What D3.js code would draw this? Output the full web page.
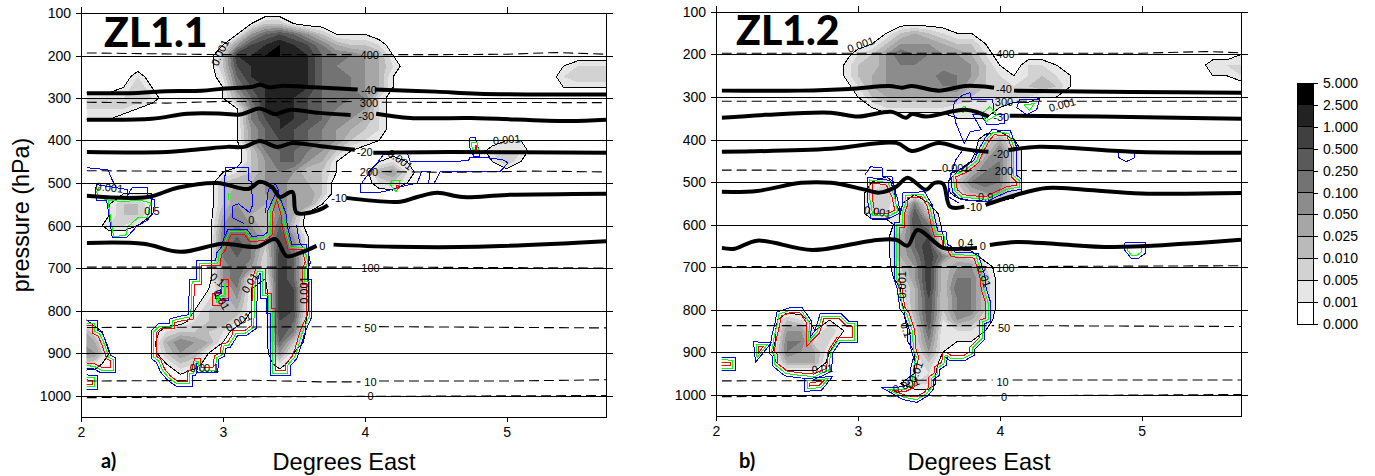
<!DOCTYPE html>
<html>
<head>
<meta charset="utf-8">
<script src="https://cdn.jsdelivr.net/npm/d3@7"></script>
<style>
  html, body { margin: 0; padding: 0; background: #fff; }
  svg { display: block; }
  text { font-family: "Liberation Sans", Arial, sans-serif; fill: #000; }
  .axis text { font-size: 14px; }
  .axis path, .axis line { stroke: #000; stroke-width: 1px; shape-rendering: crispEdges; }
  .tag { font-size: 11px; }
</style>
</head>
<body>
<svg id="chart" width="1375" height="476"></svg>
<script>
//------------------- axes ------------------
var pressureTicks = [100, 200, 300, 400, 500, 600, 700, 800, 900, 1000];
var lonTicks = [2, 3, 4, 5];
var gridLonStart = 2, gridLonStep = 0.1, gridCols = 38;
var gridPresStart = 100, gridPresStep = 25;

//------------------- colour bar ------------------
var legendLabels = ["0.000", "0.001", "0.005", "0.010", "0.025", "0.050", "0.100", "0.250", "0.500", "1.000", "2.500", "5.000"];
var legendGreys = ["#ffffff", "#e6e6e6", "#d2d2d2", "#bababa", "#a6a6a6", "#8c8c8c", "#737373", "#5a5a5a", "#404040", "#222222", "#000000"];

//------------------- condensate, read as colour bar class, one row per 25 hPa, one column per 0.1 deg ------------------
var cloudA = [
  [],
  [0,0,0,0,0,0,0,0,0,0,0,0,1,3,3,1],
  [0,0,0,0,0,0,0,0,0,0,0,1,5,7,8,7,5,3,1,1,1],
  [0,0,0,0,0,0,0,0,0,0,1,5,8,9,10,9,8,6,4,3,3,2],
  [0,0,0,0,0,0,0,0,0,0,3,9,9,10,10,9,9,7,6,6,5,4,1],
  [0,0,0,0,0,0,0,0,0,0,3,8,9,9,9,9,9,7,6,5,5,4,2,0,0,0,0,0,0,0,0,0,0,0,1,2,2,2],
  [0,0,0,0,2,0,0,0,0,0,2,7,9,9,9,9,9,7,6,6,5,4,1,0,0,0,0,0,0,0,0,0,0,0,2,3,3,3],
  [0,0,0,1,3,1,0,0,0,0,1,6,8,9,9,9,9,7,6,6,5,4,1,0,0,0,0,0,0,0,0,0,0,0,1,1,1,1],
  [2,2,2,2,3,2,0,0,0,0,1,4,7,9,9,9,8,7,6,6,6,2],
  [2,2,2,2,1,0,0,0,0,0,0,1,6,9,9,9,8,7,6,5,5,2],
  [1,1,1,0,0,0,0,0,0,0,0,1,6,8,9,9,8,7,5,5,4,2],
  [0,0,0,0,0,0,0,0,0,0,0,1,5,7,9,8,7,6,5,4,3,2],
  [0,0,0,0,0,0,0,0,0,0,0,1,5,7,8,8,7,6,5,3,2,1,0,0,0,0,0,0,0,0,1,1],
  [0,0,0,0,0,0,0,0,0,0,0,0,3,6,7,7,6,5,3,1,0,0,0,0,0,0,0,0,0,2,2,2],
  [0,0,0,0,0,0,0,0,0,0,0,0,3,5,7,7,5,4,1,0,0,1,2,1,0,0,0,0,0,1,3,1],
  [0,0,0,0,0,0,0,0,0,0,1,2,3,5,6,5,3,3,1,0,0,4,5,2],
  [0,0,0,0,0,0,0,0,0,0,3,4,4,5,6,4,4,3,0,0,0,2,3,1],
  [0,0,0,1,1,1,0,0,0,0,3,5,4,5,6,4,5,3],
  [0,0,1,3,3,1,0,0,0,0,3,5,4,4,6,4,5,1],
  [0,0,1,3,3,1,0,0,0,0,4,6,4,3,6,4],
  [0,0,2,2,1,0,0,0,0,0,5,6,5,3,7,3],
  [0,0,0,0,0,0,0,0,0,0,6,7,6,4,8,5,1],
  [0,0,0,0,0,0,0,0,0,0,6,8,6,3,8,6,1],
  [0,0,0,0,0,0,0,0,0,0,6,7,6,2,9,7,1],
  [0,0,0,0,0,0,0,0,0,0,5,7,5,2,9,7,1],
  [0,0,0,0,0,0,0,0,0,0,5,7,1,1,9,7,1],
  [0,0,0,0,0,0,0,0,0,1,3,6,1,0,9,8,1],
  [0,0,0,0,0,0,0,0,0,2,3,5,1,0,9,8,1],
  [0,0,0,0,0,0,0,0,1,3,3,4,1,0,9,8,1],
  [2,0,0,0,0,0,0,0,2,3,4,2,0,0,8,7],
  [5,2,0,0,0,0,2,3,3,3,2,0,0,0,8,6],
  [5,4,0,0,0,0,4,6,5,4,1,0,0,0,7,3],
  [6,5,1,0,0,0,3,5,4,1,0,0,0,0,5,1],
  [3,2,0,0,0,0,1,3,2,0,0,0,0,0,2],
  [0,0,0,0,0,0,0,1],
  [],
  []
];

var cloudB = [
  [],
  [],
  [0,0,0,0,0,0,0,0,0,0,0,0,1,3,4,3,2,1,1],
  [0,0,0,0,0,0,0,0,0,0,0,1,3,5,5,5,4,3,3,1],
  [0,0,0,0,0,0,0,0,0,0,2,3,5,7,6,6,5,5,4,2,0,0,0,0,0,0,0,0,0,0,0,0,0,0,0,0,0,1],
  [0,0,0,0,0,0,0,0,0,1,3,3,5,6,6,5,5,5,5,3,1,0,2,2,1,0,0,0,0,0,0,0,0,0,0,2,2,2],
  [0,0,0,0,0,0,0,0,0,1,3,4,5,5,5,5,7,6,5,3,2,1,2,3,2,1,0,0,0,0,0,0,0,0,0,1,1,2],
  [0,0,0,0,0,0,0,0,0,0,2,4,5,5,5,5,6,6,4,3,2,2,3,4,3,1],
  [0,0,0,0,0,0,0,0,0,0,1,3,4,4,4,4,4,4,3,2,2,2,2,1,1],
  [0,0,0,0,0,0,0,0,0,0,0,1,2,2,2,2,2,1,1,1,1],
  [0,0,0,0,0,0,0,0,0,0,0,0,0,0,0,0,0,1,1,1],
  [],
  [0,0,0,0,0,0,0,0,0,0,0,0,0,0,0,0,0,0,0,2,4,1],
  [0,0,0,0,0,0,0,0,0,0,0,0,0,0,0,0,0,0,0,3,6,2],
  [0,0,0,0,0,0,0,0,0,0,0,0,0,0,0,0,0,0,1,5,6,2],
  [0,0,0,0,0,0,0,0,0,0,0,0,0,0,0,0,0,1,4,6,6,2],
  [0,0,0,0,0,0,0,0,0,0,0,1,2,0,0,0,0,3,6,7,6,2],
  [0,0,0,0,0,0,0,0,0,0,0,2,3,0,0,0,0,2,4,5,5,2],
  [0,0,0,0,0,0,0,0,0,0,0,2,3,0,6,1],
  [0,0,0,0,0,0,0,0,0,0,0,2,2,1,8,3],
  [0,0,0,0,0,0,0,0,0,0,0,0,0,2,8,6],
  [0,0,0,0,0,0,0,0,0,0,0,0,0,4,7,8,1],
  [0,0,0,0,0,0,0,0,0,0,0,0,0,4,7,9,1],
  [0,0,0,0,0,0,0,0,0,0,0,0,0,4,6,9,6,3,2],
  [0,0,0,0,0,0,0,0,0,0,0,0,0,3,5,9,3,5,5,2],
  [0,0,0,0,0,0,0,0,0,0,0,0,0,2,5,9,3,6,6,3],
  [0,0,0,0,0,0,0,0,0,0,0,0,0,1,4,9,3,7,6,3],
  [0,0,0,0,0,0,0,0,0,0,0,0,0,1,4,8,3,6,6,3],
  [0,0,0,0,0,0,0,0,0,0,0,0,0,0,4,8,3,6,6,3],
  [0,0,0,0,0,3,2,0,1,0,0,0,0,0,3,8,2,5,4,2],
  [0,0,0,0,0,5,5,1,3,1,0,0,0,0,2,7,1,2,2,1],
  [0,0,0,0,0,6,6,2,2,0,0,0,0,0,2,6,1,1,1],
  [0,0,0,0,1,6,5,4,1,0,0,0,0,0,1,5,1],
  [0,0,0,0,0,4,4,4,0,0,0,0,0,0,1,3],
  [0,0,0,0,0,0,0,0,0,0,0,0,0,0,1,2],
  [0,0,0,0,0,0,0,0,0,0,0,0,0,1,2,2],
  []
];

//------------------- temperature lines [lon, hPa], null = gap for the label ------------------
var tempA = [
  [[2.04,289],[2.4,288],[2.6,284],[2.85,283],[3.0,278],[3.2,274],[3.26,269],[3.33,275],[3.42,271],[3.6,274],[3.85,278],[3.95,280],null,[4.07,280],[4.5,285],[4.8,290],[5.7,292]],
  [[2.04,351],[2.5,349],[2.75,337],[3.0,337],[3.12,339],[3.26,325],[3.37,338],[3.47,328],[3.68,335],[3.9,340],null,[4.08,337],[4.32,347],[4.75,347],[5.43,354],[5.7,351]],
  [[2.04,427],[2.6,427],[2.85,420],[3.03,415],[3.15,415],[3.26,401],[3.38,415],[3.49,406],[3.68,413],[3.93,422],null,[4.06,429],[4.6,427],[5.7,429]],
  [[2.04,530],[2.47,533],[2.68,511],[2.96,500],[3.18,514],[3.26,497],[3.35,511],[3.40,533],[3.49,521],[3.52,570],[3.68,563],[3.74,552],null,[3.87,535],[4.25,544],[4.37,533],[4.51,523],[4.69,533],[5.0,528],[5.7,525]],
  [[2.04,641],[2.44,643],[2.7,662],[3.0,643],[3.24,650],[3.37,632],[3.45,672],[3.54,665],[3.66,648],null,[3.78,645],[4.2,650],[4.8,650],[5.7,637]]
];
var tempB = [
  [[2.04,285],[2.59,285],[2.94,281],[3.22,274],[3.31,278],[3.38,274],[3.57,285],[3.76,274],[3.96,278],null,[4.1,285],[4.93,288],[5.7,290]],
  [[2.04,349],[2.35,342],[2.81,337],[3.0,346],[3.24,335],[3.34,349],[3.38,340],[3.48,346],[3.76,330],[3.92,346],null,[4.07,344],[4.7,346],[5.7,351]],
  [[2.04,429],[2.81,422],[3.27,408],[3.38,427],[3.57,408],[3.74,422],[3.92,429],null,[4.06,425],[4.28,417],[4.93,429],[5.7,431]],
  [[2.04,523],[2.29,521],[2.6,502],[2.81,502],[3.05,518],[3.15,525],[3.27,511],[3.35,490],[3.48,518],[3.54,502],[3.6,504],[3.65,558],[3.75,558],null,[3.9,554],[4.12,530],[4.33,514],[4.6,518],[5,527],[5.7,526]],
  [[2.04,655],[2.13,657],[2.29,638],[2.68,660],[3.1,638],[3.27,636],[3.35,650],[3.42,613],[3.6,655],[3.73,657],[3.84,655],null,[3.93,648],[4.12,641],[4.4,646],[4.8,653],[5.7,636]]
];

//------------------- height lines (dashed) ------------------
var heightA = [
  [[2.04,194],[3.0,198],[3.94,198],null,[4.13,198],[4.5,198],[5.0,197],[5.35,193],[5.7,197]],
  [[2.04,310],[2.6,312],[3.0,308],[3.7,309],[3.94,308],null,[4.12,310],[5.7,311]],
  [[2.04,471],[3.0,473],[3.94,473],null,[4.12,473],[4.6,475],[5.2,472],[5.7,474]],
  [[2.04,698],[3.94,698],null,[4.13,698],[5.7,700]],
  [[2.04,840],[3.97,838],null,[4.1,838],[5.7,841]],
  [[2.04,966],[3.2,964],[3.7,968],[3.97,968],null,[4.1,966],[5,966],[5.7,963]],
  [[2.04,1005],[4.0,1002],null,[4.08,1002],[5.7,1000]]
];
var heightB = [
  [[2.04,197],[3.94,197],null,[4.13,197],[5,197],[5.45,193],[5.7,196]],
  [[2.04,310],[3.94,310],null,[4.12,310],[5.7,310]],
  [[2.04,472],[3.94,473],null,[4.12,473],[5.7,475]],
  [[2.04,699],[3.94,699],null,[4.13,699],[5.7,697]],
  [[2.04,838],[3.96,838],null,[4.1,838],[5.7,840]],
  [[2.04,968],[3.95,966],null,[4.09,966],[5.7,966]],
  [[2.04,1005],[4.0,1003],null,[4.06,1003],[5.7,1000]]
];

//------------------- red contour of the liquid field, green and blue run just outside it ------------------
var liquidA = [
  [[2.80,738],[2.85,738],[2.85,695],[2.98,695],[2.99,669],[3.02,657],[3.04,634],[3.06,620],[3.15,620],[3.19,639],[3.30,634],[3.35,622],[3.35,568],[3.38,540],[3.41,575],[3.42,606],[3.46,657],[3.56,657],[3.58,686],[3.56,702],[3.56,738],[3.59,738],[3.59,813],[3.56,836],[3.54,853],[3.51,888],[3.49,907],[3.44,926],[3.44,942],[3.37,942],[3.37,796],[3.34,796],[3.34,759],[3.30,759],[3.30,702],[3.23,702],[3.21,726],[3.20,836],[3.15,848],[3.07,848],[3.07,855],[3.03,876],[2.99,879],[2.98,900],[2.94,907],[2.93,935],[2.85,935],[2.84,914],[2.80,914],[2.78,942],[2.75,942],[2.75,966],[2.68,966],[2.63,954],[2.59,938],[2.56,914],[2.53,907],[2.53,853],[2.56,843],[2.66,843],[2.66,829],[2.70,825],[2.79,820]],
  [[1.95,836],[2.08,836],[2.08,853],[2.12,860],[2.15,883],[2.18,914],[2.21,919],[2.21,935],[2.15,935],[2.10,926],[1.95,920]],
  [[1.95,962],[2.08,964],[2.08,973],[1.95,973]]
];
var liquidHolesA = [
  [[2.93,759],[2.93,789],[2.99,789],[3.00,775],[3.04,770],[3.04,728],[2.99,728],[2.99,759]]
];
var liquidB = [
  [[3.35,537],[3.45,535],[3.49,558],[3.52,606],[3.54,629],[3.59,629],[3.60,655],[3.63,660],[3.66,676],[3.82,679],[3.83,690],[3.86,723],[3.87,754],[3.90,785],[3.90,820],[3.86,825],[3.86,865],[3.79,888],[3.79,900],[3.74,909],[3.66,909],[3.63,902],[3.60,902],[3.59,924],[3.54,935],[3.54,949],[3.50,959],[3.50,982],[3.47,994],[3.41,1006],[3.33,1001],[3.24,990],[3.33,994],[3.40,982],[3.41,935],[3.43,912],[3.41,895],[3.40,848],[3.36,808],[3.33,794],[3.31,747],[3.29,726],[3.29,606],[3.33,606],[3.33,573],[3.35,554]],
  [[2.46,815],[2.52,808],[2.59,808],[2.64,832],[2.64,886],[2.73,855],[2.76,822],[2.87,822],[2.92,839],[2.96,839],[2.96,867],[2.85,867],[2.79,898],[2.78,938],[2.69,952],[2.59,949],[2.50,945],[2.43,926],[2.43,905],[2.41,898],[2.43,862],[2.45,834]],
  [[2.30,888],[2.33,888],[2.30,902]],
  [[1.95,922],[2.10,925],[2.10,932],[1.95,932]],
  [[2.66,973],[2.76,968],[2.73,978],[2.66,980]],
  [[3.10,502],[3.20,507],[3.24,535],[3.26,566],[3.22,573],[3.12,573],[3.10,535]],
  [[3.93,401],[3.96,389],[4.05,391],[4.08,417],[4.08,488],[4.12,500],[4.12,507],[4.05,511],[3.95,526],[3.90,535],[3.74,530],[3.70,518],[3.69,488],[3.76,478],[3.85,455],[3.88,431]]
];

// the thin outer contours that have no red inside
var blueOnlyA = [
  [[2.04,464],[2.19,469],[2.22,493],[2.25,511],[2.33,516],[2.33,528],[2.36,511],[2.47,511],[2.47,533],[2.52,540],[2.51,570],[2.47,587],[2.39,603],[2.32,629],[2.22,629],[2.20,580],[2.18,540],[2.11,540],[2.10,516],[2.11,504],[2.25,511]],
  [[3.01,622],[3.01,483],[3.02,483],[3.02,464],[3.18,464],[3.18,493],[3.20,497],[3.21,551],[3.19,570],[3.11,549],[3.07,554],[3.07,582],[3.15,596]],
  [[3.30,570],[3.32,516],[3.37,502],[3.39,516],[3.40,540]],
  [[3.46,617],[3.47,603],[3.52,601],[3.54,639],[3.56,650]],
  [[3.97,523],[3.97,504],[4.01,486],[4.13,434],[4.30,429],[4.32,450],[4.73,448],[4.74,441],[4.87,441],[4.97,445],[5.01,453],[4.95,474],[4.53,474],[4.49,500],[4.45,500],[4.46,474],[4.40,474],[4.37,500],[4.25,509],[4.13,521],[3.97,523]],
  [[4.74,394],[4.78,394],[4.81,429],[4.81,438],[4.77,438],[4.74,417],[4.74,394]]
];
var greenOnlyA = [
  [[2.13,509],[2.11,521],[2.13,535],[2.19,540],[2.30,544],[2.41,540],[2.49,547],[2.47,580],[2.40,582],[2.33,603],[2.32,622],[2.23,627],[2.21,587],[2.19,540]],
  [[3.04,523],[3.04,540]],
  [[4.75,405],[4.79,405],[4.80,422],[4.76,422],[4.75,405]],
  [[4.19,493],[4.25,493],[4.24,509],[4.22,521],[4.18,504],[4.19,493]]
];
var redOnlyA = [
  [[4.78,412],[4.79,412],[4.79,420],[4.78,420],[4.78,412]],
  [[4.22,505],[4.24,505],[4.24,512],[4.22,512],[4.22,505]]
];
var blueOnlyB = [
  [[3.68,311],[3.67,330],[3.69,361],[3.75,410],[3.79,382],[3.87,377],[3.81,342],[3.87,342],[3.91,365],[4.03,363],[4.03,342],[3.96,342],[3.95,307],[3.80,307],[3.79,290],[3.74,295],[3.68,311]],
  [[3.74,424],[3.69,448],[3.64,500],[3.64,535],[3.71,549]],
  [[3.80,424],[3.83,436],[3.84,429]],
  [[3.05,483],[3.09,464],[3.17,467],[3.17,488],[3.24,488],[3.26,530]],
  [[4.14,306],[4.28,306],[4.26,330],[4.19,342],[4.12,325],[4.14,306]],
  [[4.83,427],[4.95,427],[4.95,443],[4.89,452],[4.84,443],[4.83,427]],
  [[4.88,643],[5.03,643],[5.03,667],[4.97,681],[4.93,681],[4.88,660],[4.88,643]]
];
var greenOnlyB = [
  [[3.74,323],[3.76,323],[3.74,337],[3.74,323]],
  [[3.88,337],[3.93,323],[3.98,342],[3.90,358],[3.88,337]],
  [[4.17,318],[4.24,316],[4.21,332],[4.17,318]],
  [[4.90,650],[5.00,650],[5.00,664],[4.96,674],[4.93,674],[4.90,660],[4.90,650]]
];

//------------------- line labels and contour labels: text, lon, hPa, angle ------------------
var lineLabelsA = [["400",4.035,198],["-40",4.03,282],["300",4.03,311],["-30",4.01,342],["-20",4.0,427],["200",4.03,474],["-10",3.82,535],["0",3.70,648],["100",4.04,700],["50",4.04,841],["10",4.04,968],["0",4.04,1001]];
var lineLabelsB = [["400",4.04,198],["-40",4.03,281],["300",4.03,311],["-30",4.01,347],["-20",4.01,434],["200",4.03,474],["-10",3.82,558],["0",3.88,650],["100",4.04,702],["50",4.03,843],["10",4.02,971],["0",4.03,1006]];
var contourLabelsA = [["0.001",2.98,193,-65],["0.001",5.0,398,-5],["0.001",4.25,445,35],["0.001",2.2,511,5],["0.5",2.5,566,0],["0.1",2.92,935,0],["0.0",2.82,935,0],["0.001",3.11,827,-30],["0.1",2.96,728,40],["0.01",2.99,775,60],["0.01",3.19,735,-60],["0.001",3.57,752,-90],["0",3.2,587,0]];
var contourLabelsB = [["0.001",3.02,177,-20],["0.001",4.44,318,-15],["0.001",3.69,467,0],["0.9",3.90,535,0],["0.001",3.14,570,10],["0.01",2.75,940,-5],["0.001",3.34,978,-20],["0.4",3.76,643,0],["0.001",3.31,742,-90],["0.01",3.89,723,70],["0.1",3.34,848,70],["0.01",3.41,947,-70]];

//------------------- drawing ------------------
var svg = d3.select("#chart");

// push a closed ring outward in pixels, miter joins
function offsetRing(pts, dist) {
  var n = pts.length, area = 0;
  for (var i = 0; i < n; i++) {
    var a = pts[i], b = pts[(i + 1) % n];
    area += a[0] * b[1] - b[0] * a[1];
  }
  var s = area > 0 ? 1 : -1;
  return pts.map(function(p, i) {
    var prev = pts[(i + n - 1) % n], next = pts[(i + 1) % n];
    var l1 = Math.hypot(p[0] - prev[0], p[1] - prev[1]) || 1;
    var l2 = Math.hypot(next[0] - p[0], next[1] - p[1]) || 1;
    var n1 = [s * (p[1] - prev[1]) / l1, -s * (p[0] - prev[0]) / l1];
    var n2 = [s * (next[1] - p[1]) / l2, -s * (next[0] - p[0]) / l2];
    var mx = n1[0] + n2[0], my = n1[1] + n2[1];
    var ml = Math.hypot(mx, my) || 1;
    mx /= ml; my /= ml;
    var k = Math.min(dist / Math.max(mx * n1[0] + my * n1[1], 0.01), dist * 2);
    return [p[0] + mx * k, p[1] + my * k];
  });
}

function drawPanel(cfg) {
  var x = d3.scaleLinear().domain([2, 5.7]).range([cfg.left, cfg.right]);
  var y = d3.scaleLinear().domain([100, 1000]).range([cfg.top, cfg.y1000]);
  var yBottom = y.invert(cfg.bottom);
  var g = svg.append("g");

  var clipId = "clip" + cfg.name;
  g.append("clipPath").attr("id", clipId).append("rect")
    .attr("x", x(2.04)).attr("y", cfg.top)
    .attr("width", cfg.right - x(2.04)).attr("height", cfg.bottom - cfg.top);
  var plot = g.append("g").attr("clip-path", "url(#" + clipId + ")");

  // grey bands from the gridded field
  var rows = cfg.cloud.length;
  var flat = [];
  cfg.cloud.forEach(function(row) {
    for (var i = 0; i < gridCols; i++) flat.push(row[i] || 0);
  });
  var bands = d3.contours().size([gridCols, rows]).thresholds(d3.range(1, 11))(flat);
  var toPlot = d3.geoTransform({
    point: function(gx, gy) {
      this.stream.point(x(gridLonStart + (gx - 0.5) * gridLonStep), y(gridPresStart + (gy - 0.5) * gridPresStep));
    }
  });
  var path = d3.geoPath(toPlot);
  plot.selectAll("path.band").data(bands).enter().append("path")
    .attr("class", "band")
    .attr("d", path)
    .attr("fill", function(d) { return legendGreys[d.value]; })
    .attr("shape-rendering", "crispEdges");
  plot.append("path").datum(bands[0])
    .attr("d", path).attr("fill", "none")
    .attr("stroke", "#000").attr("stroke-width", 1)
    .attr("shape-rendering", "crispEdges");

  // liquid contours
  var line = d3.line().defined(function(d) { return d; })
    .x(function(d) { return x(d[0]); }).y(function(d) { return y(d[1]); });
  var smoothLine = d3.line().defined(function(d) { return d; })
    .x(function(d) { return x(d[0]); }).y(function(d) { return y(d[1]); })
    .curve(d3.curveCatmullRom);
  var toPx = function(ring) { return ring.map(function(d) { return [x(d[0]), y(d[1])]; }); };
  var ringPath = function(pts) { return d3.line()(pts) + "Z"; };
  var addContour = function(d, colour) {
    plot.append("path").attr("d", d).attr("fill", "none")
      .attr("stroke", colour).attr("stroke-width", 1)
      .attr("shape-rendering", "crispEdges");
  };
  cfg.blueOnly.forEach(function(l) { addContour(line(l), "#0000ff"); });
  cfg.greenOnly.forEach(function(l) { addContour(line(l), "#00ff00"); });
  cfg.redOnly.forEach(function(l) { addContour(line(l), "#ff0000"); });
  cfg.liquid.forEach(function(ring) {
    var px = toPx(ring);
    addContour(ringPath(offsetRing(px, 5)), "#0000ff");
    addContour(ringPath(offsetRing(px, 2.5)), "#00ff00");
    addContour(ringPath(px), "#ff0000");
  });
  cfg.holes.forEach(function(ring) {
    var px = toPx(ring);
    addContour(ringPath(offsetRing(px, -5)), "#0000ff");
    addContour(ringPath(offsetRing(px, -2.5)), "#00ff00");
    addContour(ringPath(px), "#ff0000");
  });

  // dashed height, thick temperature
  plot.selectAll("path.height").data(cfg.heights).enter().append("path")
    .attr("class", "height").attr("d", line).attr("fill", "none")
    .attr("stroke", "#000").attr("stroke-width", 1.1).attr("stroke-dasharray", "10 5");
  plot.selectAll("path.temp").data(cfg.temps).enter().append("path")
    .attr("class", "temp").attr("d", smoothLine).attr("fill", "none")
    .attr("stroke", "#000").attr("stroke-width", 4).attr("stroke-linejoin", "round");

  // labels on the lines
  g.selectAll("text.line-tag").data(cfg.lineLabels).enter().append("text")
    .attr("class", "tag line-tag").attr("text-anchor", "middle").attr("dy", "0.35em")
    .attr("x", function(d) { return x(d[1]); }).attr("y", function(d) { return y(d[2]); })
    .text(function(d) { return d[0]; });
  g.selectAll("text.cont-tag").data(cfg.contourLabels).enter().append("text")
    .attr("class", "tag cont-tag").attr("text-anchor", "middle").attr("dy", "0.35em")
    .attr("transform", function(d) { return "translate(" + x(d[1]) + "," + y(d[2]) + ") rotate(" + d[3] + ")"; })
    .text(function(d) { return d[0]; });

  // axes, the pressure ticks run on across the plot as grid lines
  var yAxisScale = y.copy().interpolate(d3.interpolateRound);
  var yFull = d3.scaleLinear().domain([y.invert(cfg.top - 6), yBottom]).range([cfg.top - 6, cfg.bottom]);
  var ax = g.append("g").attr("class", "axis").attr("transform", "translate(" + cfg.left + ",0)")
    .call(d3.axisLeft(yAxisScale).tickValues(pressureTicks).tickFormat(d3.format("d")).tickSize(5).tickPadding(5));
  ax.select(".domain").remove();
  ax.selectAll(".tick line").attr("x1", -5).attr("x2", cfg.gridEnd - cfg.left);
  g.append("g").attr("class", "axis").attr("transform", "translate(" + cfg.left + ",0)")
    .call(d3.axisLeft(yFull).tickValues([]).tickSize(0));
  g.append("g").attr("class", "axis").attr("transform", "translate(" + cfg.right + ",0)")
    .call(d3.axisRight(y.copy().domain([100, yBottom]).range([cfg.top, cfg.bottom])).tickValues([]).tickSize(0));

  var xBot = g.append("g").attr("class", "axis").attr("transform", "translate(0," + cfg.bottom + ")")
    .call(d3.axisBottom(x).tickValues(lonTicks).tickFormat(d3.format("d")).tickSize(5).tickPadding(5));
  xBot.select(".domain").attr("d", "M" + (cfg.left + 0.5) + ",0.5H" + (cfg.right + 0.5));
  var xTop = g.append("g").attr("class", "axis").attr("transform", "translate(0," + cfg.top + ")")
    .call(d3.axisTop(x).tickValues(lonTicks).tickFormat("").tickSize(6));
  xTop.select(".domain").remove();

  g.append("text").attr("x", cfg.xTitleX).attr("y", 470).attr("text-anchor", "middle")
    .attr("font-size", "23.6px").text("Degrees East");
  g.append("text").attr("x", cfg.nameX).attr("y", cfg.nameY)
    .style("font-family", "Lato, sans-serif").style("font-weight", 900)
    .attr("font-size", "41px").text(cfg.name);
  g.append("text").attr("x", cfg.tagX).attr("y", 468)
    .style("font-family", "Lato, sans-serif").style("font-weight", 700)
    .attr("font-size", "20px").text(cfg.tag);
}

drawPanel({
  name: "ZL1.1", tag: "a)", left: 81, right: 606, top: 13, y1000: 395.5, bottom: 417, gridEnd: 613,
  xTitleX: 344, nameX: 104, nameY: 47, tagX: 101,
  cloud: cloudA, temps: tempA, heights: heightA,
  liquid: liquidA, holes: liquidHolesA, blueOnly: blueOnlyA, greenOnly: greenOnlyA, redOnly: redOnlyA,
  lineLabels: lineLabelsA, contourLabels: contourLabelsA
});
drawPanel({
  name: "ZL1.2", tag: "b)", left: 716, right: 1241, top: 12, y1000: 394.5, bottom: 416, gridEnd: 1248,
  xTitleX: 979, nameX: 736, nameY: 45, tagX: 739,
  cloud: cloudB, temps: tempB, heights: heightB,
  liquid: liquidB, holes: [], blueOnly: blueOnlyB, greenOnly: greenOnlyB, redOnly: [],
  lineLabels: lineLabelsB, contourLabels: contourLabelsB
});

svg.append("text").attr("transform", "translate(29,215) rotate(-90)")
  .attr("text-anchor", "middle").attr("font-size", "23.4px").text("pressure (hPa)");

// colour bar
var legendY = d3.scalePoint().domain(legendLabels).range([324, 83]);
var legend = svg.append("g");
legend.selectAll("rect").data(legendGreys).enter().append("rect")
  .attr("x", 1297).attr("width", 16)
  .attr("y", function(d, i) { return legendY(legendLabels[i + 1]); })
  .attr("height", legendY.step())
  .attr("fill", function(d) { return d; })
  .attr("stroke", "#000").attr("shape-rendering", "crispEdges");
legend.append("g").attr("class", "axis").attr("transform", "translate(1313,0)")
  .call(d3.axisRight(legendY).tickSize(5).tickPadding(5))
  .select(".domain").remove();
</script>
</body>
</html>
